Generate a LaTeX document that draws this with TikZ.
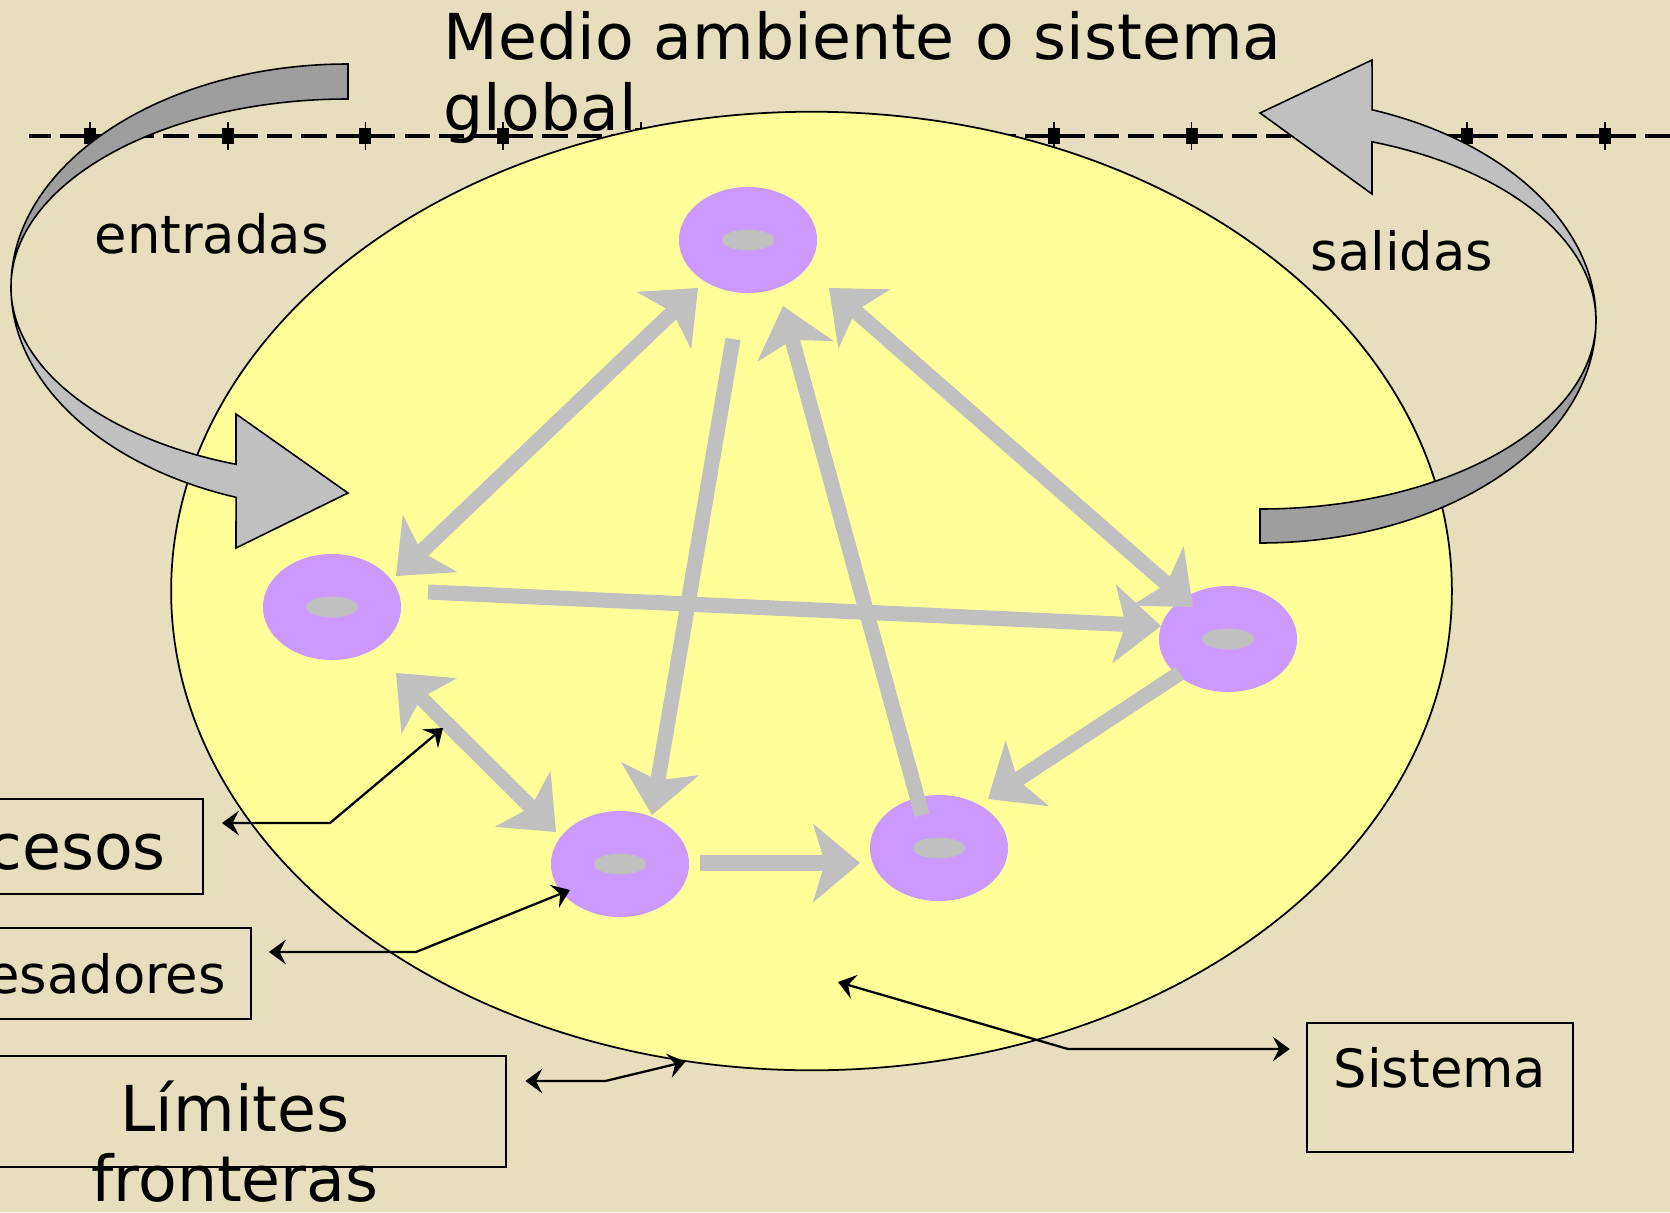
\documentclass[tikz,border=0pt]{standalone}
\definecolor{fondo}{RGB}{230, 222, 188}
\definecolor{amarillo}{RGB}{255, 255, 153}
\definecolor{lila}{RGB}{204, 153, 255}
\definecolor{gris}{RGB}{192, 192, 192}
\definecolor{grisosc}{RGB}{158, 158, 158}
\usepackage{fontspec}
\setmainfont{DejaVu Sans}
\usepackage{tikz}
\usetikzlibrary{calc,shapes.geometric,arrows.meta,positioning}
\newcommand{\grande}{\fontsize{18}{20}\selectfont}
\newcommand{\mediana}{\fontsize{15}{18}\selectfont}
\tikzset{
  punta/.tip={Stealth[length=13.4pt, width=22.5pt, inset=3.4pt, line width=0pt]},
  puntita/.tip={Stealth[length=4.8pt, width=7pt, inset=1.8pt]},
  donut/.style={ellipse, fill=lila, minimum width=1.38cm, minimum height=1.06cm, inner sep=0pt,
    path picture={\fill[gris] (path picture bounding box.center) ellipse [x radius=0.26cm, y radius=0.105cm];}},
  flecha/.style={draw=gris, line width=4.3pt, -punta},
  doble/.style={draw=gris, line width=4.3pt, punta-punta},
  ptr/.style={draw=black, line width=0.65pt, puntita-puntita},
  caja/.style={draw=black, line width=0.7pt, rectangle},
  cinta/.style={draw=black, line width=0.45pt}
}

\begin{document}
\begin{tikzpicture}[x=0.01cm, y=-0.01cm]
  \useasboundingbox (0,0) rectangle (1670,1212);
  \clip (0,0) rectangle (1670,1212);
  \fill[fondo] (0,0) rectangle (1670,1212);

  % linea del medio ambiente
  \draw[line width=1.1pt, dash pattern=on 7.2pt off 2.6pt, dash phase=1pt] (29,136) -- (1670,136);
  \foreach \i in {0,...,11} {
    \fill ({84+137.7*\i},128) rectangle ++(12,16);
    \draw[line width=0.5pt] ({90+137.7*\i},122) -- ++(0,28);
  }

  % sistema
  \node[ellipse, draw, line width=0.5pt, fill=amarillo, minimum width=12.80cm, minimum height=9.58cm] (sys) at (811.5,591) {};

  % entradas
  \filldraw[cinta, fill=grisosc] (348,64) arc[start angle=270, end angle=180, x radius=337, y radius=223]
    arc[start angle=180, end angle=270, x radius=337, y radius=188] -- cycle;
  \filldraw[cinta, fill=gris] (11,287) arc[start angle=180, end angle=109.4, x radius=337, y radius=223]
    -- (236,548) -- (348,493) -- (236,414) -- (236,464.3)
    arc[start angle=109.4, end angle=180, x radius=337, y radius=188] -- cycle;

  % salidas
  \filldraw[cinta, fill=grisosc] (1260,543) arc[start angle=90, end angle=0, x radius=336, y radius=223]
    arc[start angle=0, end angle=90, x radius=336, y radius=189] -- cycle;
  \filldraw[cinta, fill=gris] (1596,320) arc[start angle=0, end angle=-70.5, x radius=336, y radius=223]
    -- (1372,60) -- (1260,113) -- (1372,194) -- (1372,141.8)
    arc[start angle=-70.5, end angle=0, x radius=336, y radius=189] -- cycle;

  % procesadores
  \node[donut] (top) at (748,240) {};
  \node[donut] (lf) at (332,607) {};
  \node[donut] (rt) at (1228,639) {};
  \node[donut] (bl) at (620,864) {};
  \node[donut] (br) at (939,848) {};

  % procesos
  \draw[doble] ($(top)+(-50,48)$) -- ($(lf)+(64,-31)$);
  \draw[flecha] ($(top)+(-15,99)$) -- ($(bl)+(32,-49)$);
  \draw[flecha] ($(br)+(-17,-33)$) -- ($(top)+(35,66)$);
  \draw[doble] ($(top)+(81,48)$) -- ($(rt)+(-35,-32)$);
  \draw[flecha] ($(lf)+(96,-15)$) -- ($(rt)+(-67,-13)$);
  \draw[doble] ($(lf)+(64,66)$) -- ($(bl)+(-64,-32)$);
  \draw[flecha] ($(bl)+(80,-1)$) -- ($(br)+(-79,15)$);
  \draw[flecha] ($(rt)+(-48,34)$) -- ($(br)+(49,-49)$);

  % rotulos
  \node[anchor=north west, align=left, font=\grande, inner sep=0pt] (medio) at (443,11) {Medio ambiente o sistema\\global};
  \node[anchor=base west, font=\mediana, inner sep=0pt] (entradas) at (94,253) {entradas};
  \node[anchor=base west, font=\mediana, inner sep=0pt] (salidas) at (1310,270) {salidas};

  \node[caja, anchor=east, font=\grande, minimum height=0.95cm, inner xsep=0.37cm] (procesos) at (204,846.5) {Procesos};
  \node[caja, anchor=east, font=\mediana, minimum height=0.91cm, inner xsep=0.25cm] (procesadores) at (252,973.5) {Procesadores};
  \node[caja, minimum width=5.42cm, minimum height=1.11cm] (limites) at (235,1111.5) {};
  \node[anchor=north, align=center, font=\grande, inner sep=0pt] (limtxt) at (235,1080) {Límites\\fronteras};
  \node[caja, minimum width=2.66cm, minimum height=1.29cm] (sistema) at (1440,1087.5) {};
  \node[anchor=base, font=\mediana, inner sep=0pt] (sistxt) at (1440,1087) {Sistema};

  % indicadores
  \coordinate (flechas) at (443,728);
  \coordinate (interior) at (838,982);
  \draw[ptr] ($(procesos.east)+(18,-23.5)$) -- ++(108,0) -- (flechas);
  \draw[ptr] ($(procesadores.east)+(17,-21.5)$) -- ++(147,0) -- ($(bl)+(-50,26)$);
  \draw[ptr] ($(limites.east)+(18,-30.5)$) -- ++(80,0) -- (sys.255);
  \draw[ptr] (interior) -- ++(230,67) -- ($(sistema.west)+(-16,-38.5)$);
\end{tikzpicture}
\end{document}
